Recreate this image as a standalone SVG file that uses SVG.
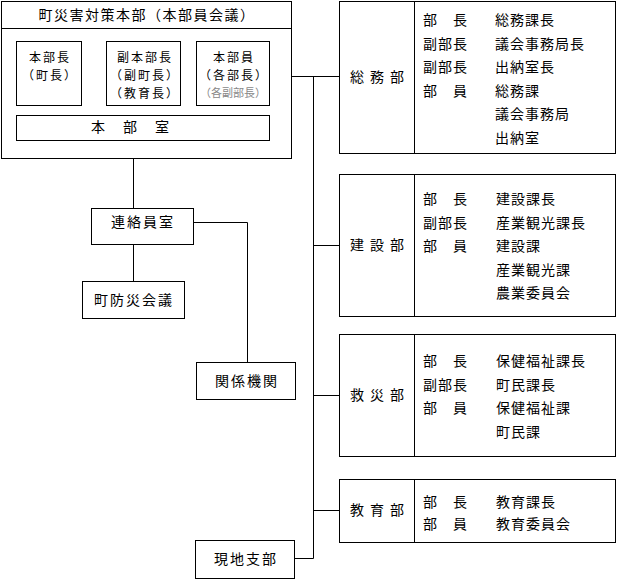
<svg xmlns="http://www.w3.org/2000/svg" width="618" height="581" viewBox="0 0 618 581">
<style>
rect{fill:#fff;stroke:#000;stroke-width:1}
.ln{fill:none;stroke:#000;stroke-width:1}
text{font-family:"Noto Sans CJK JP","Noto Sans CJK SC",sans-serif;font-size:14px;fill:#000;letter-spacing:1px}
.m{text-anchor:middle}
.b{font-size:12px;letter-spacing:2px}
.sm{font-size:11px;fill:#888;letter-spacing:0}
.dept{letter-spacing:6px}
</style>
<rect x="0" y="0" width="618" height="581" style="fill:#fff;stroke:none"/>
<g id="connectors">
<path class="ln" d="M81.5 76.5H106.5M180.5 76.5H196.5M269.5 76.5H339.5"/>
<path class="ln" d="M313.5 76.5V558.5M313.5 245.5H339.5M313.5 395.5H339.5M313.5 510.5H339.5M294.5 558.5H313.5"/>
<path class="ln" d="M133.5 140.5V208.5M133.5 244.5V281.5M193.5 222.5H247.5V362.5"/>
</g>
<g id="hq">
<rect x="1.5" y="1.5" width="290" height="157"/>
<path class="ln" d="M1.5 28.5H291.5"/>
<text x="147" y="20" class="m" style="letter-spacing:1.5px">町災害対策本部（本部員会議）</text>
</g>
<g id="honbucho">
<rect x="16.5" y="41.5" width="65" height="64"/>
<text x="50" y="62" class="m b">本部長</text>
<text x="50" y="80" class="m b">（町長）</text>
</g>
<g id="fukuhonbucho">
<rect x="106.5" y="41.5" width="74" height="64"/>
<text x="145" y="62" class="m b">副本部長</text>
<text x="145" y="80" class="m b">（副町長）</text>
<text x="145" y="98" class="m b">（教育長）</text>
</g>
<g id="honbuin">
<rect x="196.5" y="41.5" width="73" height="64"/>
<text x="234" y="62" class="m b">本部員</text>
<text x="234" y="80" class="m b">（各部長）</text>
<text x="233" y="97" class="m sm">（各副部長）</text>
</g>
<g id="honbushitsu">
<rect x="16.5" y="115.5" width="253" height="25"/>
<text x="139" y="132" class="m" style="letter-spacing:18px">本部室</text>
</g>
<g id="renrakuin">
<rect x="91.5" y="208.5" width="102" height="36"/>
<text x="143" y="227" class="m" style="letter-spacing:2px">連絡員室</text>
</g>
<g id="bousaikaigi">
<rect x="82.5" y="281.5" width="102" height="37"/>
<text x="134" y="305" class="m" style="letter-spacing:2px">町防災会議</text>
</g>
<g id="kankei">
<rect x="196.5" y="362.5" width="99" height="37"/>
<text x="247" y="386" class="m" style="letter-spacing:2px">関係機関</text>
</g>
<g id="genchi">
<rect x="195.5" y="540.5" width="99" height="38"/>
<text x="246" y="564" class="m" style="letter-spacing:2px">現地支部</text>
</g>
<g id="somubu">
<rect x="339.5" y="1.5" width="276" height="152"/>
<path class="ln" d="M414.5 1.5V153.5"/>
<text x="380" y="82" class="m dept">総務部</text>
<text x="423" y="25">部　長</text><text x="495" y="25">総務課長</text>
<text x="423" y="48.5">副部長</text><text x="495" y="48.5">議会事務局長</text>
<text x="423" y="72">副部長</text><text x="495" y="72">出納室長</text>
<text x="423" y="95.5">部　員</text><text x="495" y="95.5">総務課</text>
<text x="495" y="119">議会事務局</text>
<text x="495" y="142.5">出納室</text>
</g>
<g id="kensetsubu">
<rect x="339.5" y="174.5" width="276" height="142"/>
<path class="ln" d="M414.5 174.5V316.5"/>
<text x="380" y="250" class="m dept">建設部</text>
<text x="423" y="204">部　長</text><text x="496" y="204">建設課長</text>
<text x="423" y="227.5">副部長</text><text x="496" y="227.5">産業観光課長</text>
<text x="423" y="251">部　員</text><text x="496" y="251">建設課</text>
<text x="496" y="274.5">産業観光課</text>
<text x="496" y="298">農業委員会</text>
</g>
<g id="kyusaibu">
<rect x="339.5" y="334.5" width="276" height="122"/>
<path class="ln" d="M414.5 334.5V456.5"/>
<text x="380" y="400" class="m dept">救災部</text>
<text x="423" y="366">部　長</text><text x="496" y="366">保健福祉課長</text>
<text x="423" y="389.5">副部長</text><text x="496" y="389.5">町民課長</text>
<text x="423" y="413">部　員</text><text x="496" y="413">保健福祉課</text>
<text x="496" y="436.5">町民課</text>
</g>
<g id="kyoikubu">
<rect x="339.5" y="479.5" width="276" height="63"/>
<path class="ln" d="M414.5 479.5V542.5"/>
<text x="380" y="515" class="m dept">教育部</text>
<text x="423" y="507">部　長</text><text x="496" y="507">教育課長</text>
<text x="423" y="529">部　員</text><text x="496" y="529">教育委員会</text>
</g>
</svg>
